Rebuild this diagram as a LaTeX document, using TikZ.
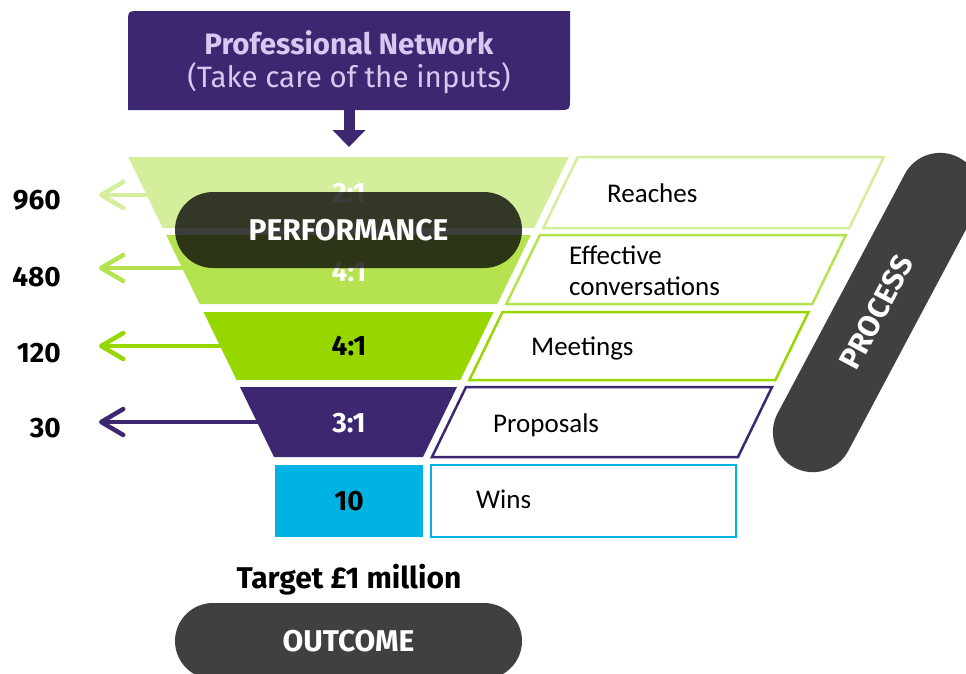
\documentclass[tikz,border=0pt]{standalone}
\usepackage{fontspec}
\setmainfont{Fira Sans}
\newfontfamily\labelfont{Carlito}
\usetikzlibrary{arrows.meta}
\definecolor{netpurple}{RGB}{60,39,112}
\definecolor{lavender}{RGB}{214,200,240}
\definecolor{greenA}{RGB}{212,238,156}
\definecolor{greenB}{RGB}{181,227,79}
\definecolor{greenC}{RGB}{151,215,0}
\definecolor{winblue}{RGB}{0,179,227}
\definecolor{pillgray}{RGB}{64,64,64}
\definecolor{overlay}{RGB}{6,6,6}

\begin{document}
\begin{tikzpicture}[x=1pt,y=-1pt,
  wordbold/.style={font=\bfseries\fontsize{30}{34}\selectfont},
  numbold/.style={font=\bfseries\fontsize{28}{32}\selectfont},
  ratio/.style={numbold, inner sep=0pt},
  count/.style={numbold, anchor=east, inner sep=0pt},
  stage/.style={line width=2.5pt, fill=white, line join=miter},
  stagelabel/.style={font=\labelfont\fontsize{27}{31}\selectfont, anchor=base west, align=left, inner sep=0pt},
  pill/.style={rounded corners=38pt, minimum width=347pt, minimum height=76pt, inner sep=0pt, text=white, wordbold},
  feed/.style={line width=4.5pt, line cap=round,
    -{Straight Barb[length=22pt, width=26pt, line cap=round, line join=round]}}
]
\useasboundingbox (0,0) rectangle (966,673);
\clip (0,0) rectangle (966,673);

% ---- inputs box ----
\fill[netpurple] (128,110) -- (128,23) .. controls (128,11) .. (140,11) -- (570,11)
  -- (570,98) .. controls (570,110) .. (558,110) -- cycle;
\node[minimum width=442pt, minimum height=99pt, inner sep=0pt, text=lavender,
      align=center, font=\fontsize{29.5}{33}\selectfont] (network) at (349,62.5)
  {\textbf{Professional Network}\\(Take care of the inputs)};
\path (349,110) coordinate (boxfoot);
\coordinate (funneltop) at (349,147);
\draw[netpurple, line width=11pt, -{Triangle[length=17pt, width=32pt]}] (boxfoot) -- (funneltop);

% ---- funnel bands ----
\fill[greenA] (128.2,157) -- (568.8,157) -- (534.3,228) -- (162.7,228) -- cycle;
\fill[greenB] (166.1,235) -- (530.9,235) -- (497.3,304) -- (199.7,304) -- cycle;
\fill[greenC] (203.5,312) -- (493.5,312) -- (460.4,380) -- (236.6,380) -- cycle;
\fill[netpurple] (240,387) -- (457,387) -- (423,457) -- (274,457) -- cycle;
\fill[winblue] (275,465) rectangle (423,537);

\node[ratio, text=white] (r1) at (349,193) {2:1};
\node[ratio, text=white] (r2) at (349,272) {4:1};
\node[ratio, text=black] (r3) at (349,346) {4:1};
\node[ratio, text=white] (r4) at (349,423) {3:1};
\node[ratio, text=black] (r5) at (349,501) {10};

% ---- stage boxes ----
\draw[stage, draw=greenA] (577.8,157) -- (883.8,157) -- (849.3,228) -- (543.3,228) -- cycle;
\draw[stage, draw=greenB] (539.9,235) -- (845.9,235) -- (812.3,304) -- (506.3,304) -- cycle;
\draw[stage, draw=greenC] (502.5,312) -- (808.5,312) -- (775.4,380) -- (469.4,380) -- cycle;
\draw[stage, draw=netpurple] (466,387) -- (772,387) -- (738,457) -- (432,457) -- cycle;
\draw[stage, draw=winblue] (431,465) rectangle (736,537);

\node[stagelabel] (s1) at (607,202.5) {Reaches};
\node[stagelabel] (s2) at (569,295) {Effective\\conversations};
\node[stagelabel] (s3) at (531,355.5) {Meetings};
\node[stagelabel] (s4) at (493,432) {Proposals};
\node[stagelabel] (s5) at (476,508.5) {Wins};

% ---- counts with arrows ----
\node[count] (c1) at (61,200) {960};
\node[count] (c2) at (61,277) {480};
\node[count] (c3) at (61,353) {120};
\node[count] (c4) at (61,428) {30};

\coordinate (e1) at (146.7,195); \coordinate (t1) at (99,195);
\coordinate (e2) at (182.2,268); \coordinate (t2) at (99,268);
\coordinate (e3) at (220.1,346); \coordinate (t3) at (99,346);
\coordinate (e4) at (257,422);   \coordinate (t4) at (99,422);
\draw[feed, greenA] (e1) -- (t1);
\draw[feed, greenB] (e2) -- (t2);
\draw[feed, greenC] (e3) -- (t3);
\draw[feed, netpurple] (e4) -- (t4);

% ---- performance overlay ----
\node[pill, fill=overlay, fill opacity=0.78, text opacity=1] (perf) at (348.5,230) {PERFORMANCE};

% ---- process band ----
\node[rounded corners=40pt, minimum width=351pt, minimum height=80pt, inner sep=0pt,
      fill=pillgray, text=white, wordbold, rotate=62] (process) at (876.5,312.5) {PROCESS};

% ---- outcome ----
\node[wordbold, inner sep=0pt] (target) at (349,580) {Target £1 million};
\node[pill, fill=pillgray] (outcome) at (348.5,641) {OUTCOME};
\end{tikzpicture}
\end{document}
